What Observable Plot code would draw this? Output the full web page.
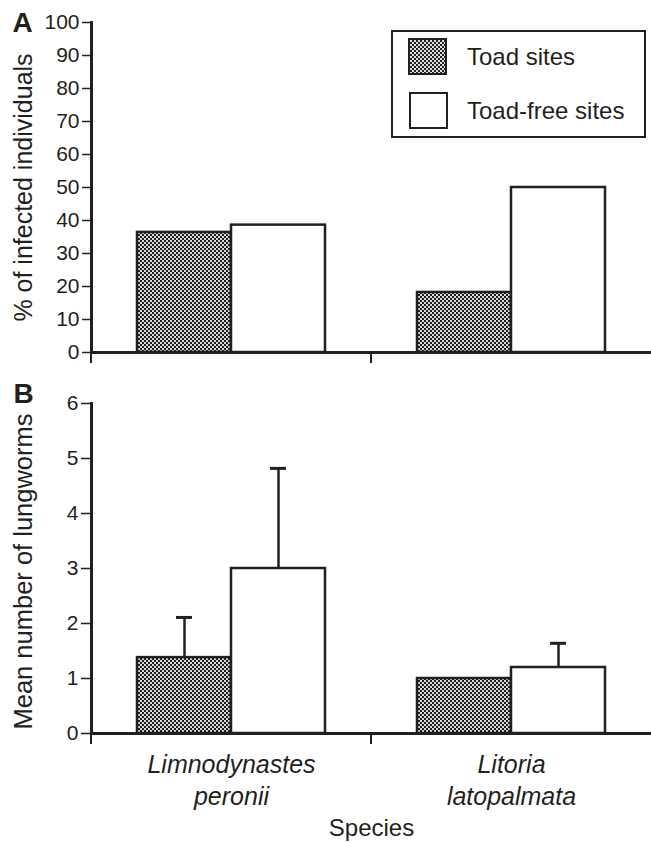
<!DOCTYPE html>
<html><head><meta charset="utf-8">
<script src="https://cdn.jsdelivr.net/npm/d3@7"></script>
<script src="https://cdn.jsdelivr.net/npm/@observablehq/plot@0.6"></script>
<style>
body{margin:0;background:#fff;font-family:"Liberation Sans",Arial,Helvetica,sans-serif;}
#wrap{position:relative;width:651px;height:843px;overflow:hidden;background:#fff;}
#wrap svg{display:block}
.legend{position:absolute;left:391px;top:30px;width:255px;height:108px;box-sizing:border-box;border:2px solid #231f20;background:#fff;}
.sw{position:absolute;width:39px;height:37px;box-sizing:border-box;border:2px solid #231f20;background:#fff;}
.sw.chk{background-color:#ddd;background-image:repeating-conic-gradient(#222 0 25%, #ddd 0 50%);background-size:4px 4px;}
.lt{position:absolute;font-size:24px;line-height:24px;color:#231f20;white-space:nowrap;}
</style></head>
<body>
<div id="wrap"></div>
<script>
// ---- data ----
const species = ["Limnodynastes peronii", "Litoria latopalmata"];
const sites = ["Toad sites", "Toad-free sites"];
const infectedToad = [36.4, 18.2];
const infectedFree = [38.6, 50.0];
const wormsToad = [1.38, 1.0];
const wormsFree = [3.0, 1.2];
const wormsToadSE = [0.73, 0];
const wormsFreeSE = [1.82, 0.44];
const yTicksA = [0, 10, 20, 30, 40, 50, 60, 70, 80, 90, 100];
const yTicksB = [0, 1, 2, 3, 4, 5, 6];
const labelA = "% of infected individuals";
const labelB = "Mean number of lungworms";
const labelX = "Species";

const INK = "#231f20";
const FONT = "'Liberation Sans', Arial, Helvetica, sans-serif";

function rows(toad, free, toadSE, freeSE) {
  const out = [];
  species.forEach((s, i) => {
    out.push({species: s, site: sites[0], value: toad[i], se: toadSE ? toadSE[i] : 0});
    out.push({species: s, site: sites[1], value: free[i], se: freeSE ? freeSE[i] : 0});
  });
  return out;
}

function defs(id) {
  return () => {
    const d = d3.create("svg:defs");
    const p = d.append("pattern").attr("id", id).attr("patternUnits", "userSpaceOnUse")
      .attr("width", 4).attr("height", 4);
    p.append("rect").attr("width", 4).attr("height", 4).attr("fill", "#d8d8d8");
    p.append("rect").attr("width", 2).attr("height", 2).attr("fill", "#1e1e1e");
    p.append("rect").attr("x", 2).attr("y", 2).attr("width", 2).attr("height", 2).attr("fill", "#1e1e1e");
    return d.node();
  };
}

function edgeTicks(index, scales, values, dimensions) {
  const y0 = dimensions.height - dimensions.marginBottom;
  const g = d3.create("svg:g").attr("stroke", INK).attr("stroke-width", 2);
  if (scales && scales.x) {
    for (const s of species) {
      const x = scales.x(s);
      g.append("line").attr("x1", x).attr("x2", x).attr("y1", y0).attr("y2", y0 + 11);
    }
  }
  return g.node();
}

const BARW = 94, OUT = 46, BAND = 280;
function barMarks(data, pid) {
  const toad = data.filter(d => d.site === sites[0]);
  const free = data.filter(d => d.site === sites[1]);
  return [
    Plot.barY(toad, {x: "species", y: "value", fill: `url(#${pid})`, stroke: INK, strokeWidth: 2.5,
      insetLeft: OUT, insetRight: BAND - OUT - BARW}),
    Plot.barY(free, {x: "species", y: "value", fill: "white", stroke: INK, strokeWidth: 2.5,
      insetLeft: OUT + BARW, insetRight: BAND - OUT - 2 * BARW})
  ];
}
function errMarks(data) {
  const m = [];
  sites.forEach((site, k) => {
    const e = data.filter(d => d.site === site && d.se > 0);
    const dx = k === 0 ? -BARW / 2 : BARW / 2;
    m.push(Plot.ruleX(e, {x: "species", y1: "value", y2: d => d.value + d.se, dx, stroke: INK, strokeWidth: 2.5}));
    m.push(Plot.tickY(e, {x: "species", y: d => d.value + d.se, dx, stroke: INK, strokeWidth: 3,
      insetLeft: BAND / 2 - 8, insetRight: BAND / 2 - 8}));
  });
  return m;
}

const common = {
  width: 651, marginLeft: 91, marginRight: 0,
  style: {fontFamily: FONT, color: INK, background: "white", overflow: "visible"},
  x: {domain: species, padding: 0, axis: null}
};

const dataA = rows(infectedToad, infectedFree);
const chartA = Plot.plot({
  ...common,
  height: 370, marginTop: 22, marginBottom: 18,
  y: {domain: [0, 100]},
  marks: [
    defs("chkA"),
    ...barMarks(dataA, "chkA"),
    Plot.axisY({ticks: yTicksA, tickFormat: d3.format("d"), tickSize: 9, tickPadding: 3, fontSize: 21, label: null, color: INK, strokeWidth: 1.5}),
    Plot.frame({anchor: "left", stroke: INK, strokeWidth: 3}),
    Plot.ruleY([0], {stroke: INK, strokeWidth: 3}),
    edgeTicks,
    Plot.text([labelA], {text: d => d, frameAnchor: "left", textAnchor: "middle", rotate: -90, dx: -68, fontSize: 25, fill: INK}),
    Plot.text(["A"], {text: d => d, frameAnchor: "top-left", textAnchor: "start", lineAnchor: "top",
      dx: -79, dy: -10, fontSize: 28, fontWeight: "bold", fill: INK})
  ]
});

const dataB = rows(wormsToad, wormsFree, wormsToadSE, wormsFreeSE);
const chartB = Plot.plot({
  ...common,
  height: 473, marginTop: 33, marginBottom: 110,
  y: {domain: [0, 6]},
  marks: [
    defs("chkB"),
    ...barMarks(dataB, "chkB"),
    ...errMarks(dataB),
    Plot.axisY({ticks: yTicksB, tickFormat: d3.format("d"), tickSize: 10, tickPadding: 3, fontSize: 21, label: null, color: INK, strokeWidth: 1.5}),
    Plot.frame({anchor: "left", stroke: INK, strokeWidth: 3}),
    Plot.ruleY([0], {stroke: INK, strokeWidth: 3}),
    edgeTicks,
    Plot.text(species, {x: d => d, text: d => d.replace(" ", "\n"), frameAnchor: "bottom", lineAnchor: "top",
      dy: 17, fontSize: 25, fontStyle: "italic", lineHeight: 1.28, fill: INK}),
    Plot.text([labelX], {text: d => d, frameAnchor: "bottom", lineAnchor: "top", dy: 85, fontSize: 24, fill: INK}),
    Plot.text([labelB], {text: d => d, frameAnchor: "left", textAnchor: "middle", rotate: -90, dx: -68, dy: 3, fontSize: 25.5, fill: INK}),
    Plot.text(["B"], {text: d => d, frameAnchor: "top-left", textAnchor: "start", lineAnchor: "top",
      dx: -78, dy: -20, fontSize: 28, fontWeight: "bold", fill: INK})
  ]
});

const wrap = document.getElementById("wrap");
wrap.appendChild(chartA);
wrap.appendChild(chartB);

// legend
const leg = document.createElement("div");
leg.className = "legend";
sites.forEach((s, i) => {
  const sw = document.createElement("div");
  sw.className = "sw" + (i === 0 ? " chk" : "");
  sw.style.left = (15 + i) + "px";
  sw.style.top = (6 + i * 54) + "px";
  leg.appendChild(sw);
  const t = document.createElement("div");
  t.className = "lt";
  t.textContent = s;
  t.style.left = "74px";
  t.style.top = (13 + i * 54) + "px";
  leg.appendChild(t);
});
wrap.appendChild(leg);
</script>
</body></html>
